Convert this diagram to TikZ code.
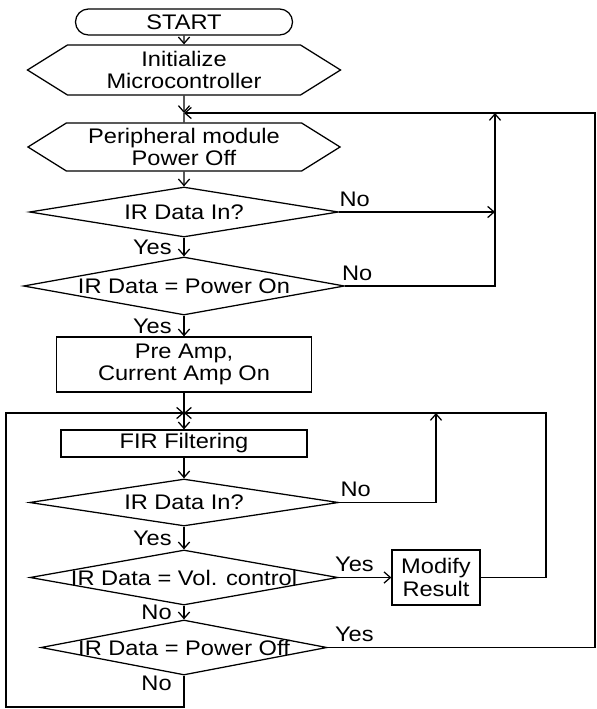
\documentclass[tikz,border=0pt]{standalone}
\usepackage{fontspec}
\setmainfont{Liberation Sans}[FakeStretch=1.12]
\usepackage{tikz}
\usetikzlibrary{arrows.meta,shapes.geometric,shapes.misc,shapes.symbols}

\begin{document}
\begin{tikzpicture}[
  x=0.025cm, y=-0.025cm,
  line width=0.9pt,
  font=\fontsize{15}{16}\selectfont,
  term/.style={draw, rounded rectangle, minimum width=5.425cm, minimum height=0.65cm, inner sep=0pt},
  prep/.style={draw, signal, signal to=west and east, signal pointer angle=64, align=center, inner sep=0pt},
  box/.style={draw, align=center, inner sep=0pt},
  dec/.style={draw, diamond, inner sep=0pt},
  arr/.style={-{Straight Barb[length=1.6mm,width=2.8mm]}}
]
\useasboundingbox (0,0) rectangle (597,709);

\node[term] (start) at (184,22) {START};
\node[prep, minimum width=7.825cm, minimum height=1.25cm] (init) at (184,70) {Initialize\\Microcontroller};
\node[prep, minimum width=7.8cm, minimum height=1.2cm] (peri) at (184,147) {Peripheral module\\Power Off};
\node[dec, minimum width=7.725cm, minimum height=1.25cm, label=center:{IR Data In?}] (q1) at (184,212) {};
\node[dec, minimum width=8.025cm, minimum height=1.45cm, label=center:{IR Data = Power On}] (q2) at (184,286) {};
\node[box, minimum width=6.375cm, minimum height=1.375cm] (pre) at (184,364.5) {Pre Amp,\\Current Amp On};
\node[box, minimum width=6.15cm, minimum height=0.675cm] (fir) at (184,443.5) {FIR Filtering};
\node[dec, minimum width=7.725cm, minimum height=1.175cm, label=center:{IR Data In?}] (q3) at (184,502.5) {};
\node[dec, minimum width=7.7cm, minimum height=1.375cm, label=center:{IR Data = Vol. control}] (q4) at (184,577.5) {};
\node[dec, minimum width=7.15cm, minimum height=1.375cm, label=center:{IR Data = Power Off}] (q5) at (184,647.5) {};
\node[box, minimum width=2.2cm, minimum height=1.375cm] (modify) at (436,577.5) {Modify\\Result};

% junctions and corners of the return lines
\coordinate (j1) at (184,113);
\coordinate (j2) at (184,413);
\coordinate (c1) at (495,113);
\coordinate (c2) at (595,113);
\coordinate (c3) at (546,413);
\coordinate (c4) at (436,413);
\coordinate (c5) at (6,413);
\coordinate (c6) at (6,707);

\draw[arr] (start) -- (init);
\draw[arr] (init) -- (j1);
\draw (j1) -- (peri);
\draw[arr] (peri) -- (q1);
\draw[arr] (q1) -- node[left=5pt] {Yes} (q2);
\draw[arr] (q2) -- node[left=5pt] {Yes} (pre);
\draw[arr] (pre) -- (fir);
\draw[arr] (fir) -- (q3);
\draw[arr] (q3) -- node[left=5pt] {Yes} (q4);
\draw[arr] (q4) -- node[left=5pt] {No} (q5);

\draw[arr] (q1.east) -- node[above, pos=.1] {No} (q1.east -| c1);
\draw[arr] (q2.east) -- node[above, pos=.08] {No} (q2.east -| c1) -- (c1);
\draw[arr] (q5.east) -- node[above, pos=.1] {Yes} (q5.east -| c2) -- (c2) -- (j1);

\draw[arr] (q3.east) -- node[above, pos=.17] {No} (q3.east -| c4) -- (c4);
\draw[arr] (q4.east) -- node[above, pos=.3] {Yes} (modify);
\draw[arr] (modify.east) -| (c3) -- (j2);
\draw[arr] (q5.south) -- node[left=5pt, pos=.25] {No} (q5.south |- c6) -- (c6) -- (c5) -- (j2);
\end{tikzpicture}
\end{document}
